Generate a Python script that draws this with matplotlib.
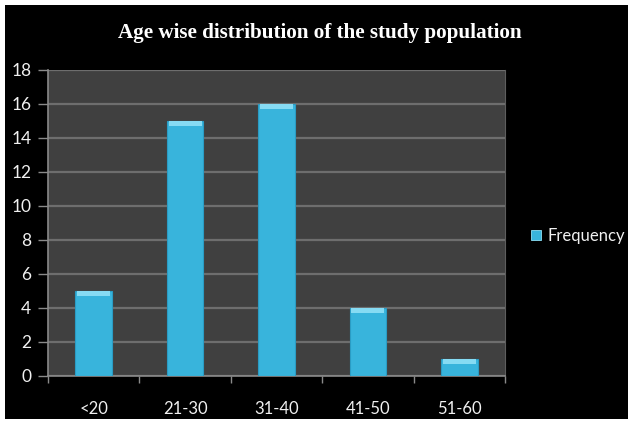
import matplotlib
matplotlib.use("Agg")
import matplotlib.pyplot as plt
from matplotlib.patches import Rectangle
import numpy as np

categories = ["<20", "21-30", "31-40", "41-50", "51-60"]
frequency = [5, 15, 16, 4, 1]
y_ticks = [0, 2, 4, 6, 8, 10, 12, 14, 16, 18]

title = "Age wise distribution of the study population"
series_name = "Frequency"

bar_color = "#38b4dc"
cap_color = "#86dbf3"
plot_bg = "#404040"
grid_color = "#6e6e6e"
text_color = "#f0f0f0"

fig = plt.figure(figsize=(6.33, 4.24), dpi=100)
fig.patch.set_facecolor("white")
# black slide area inside a thin white frame
fig.patches.append(Rectangle((5 / 633, 5 / 424), 623 / 633, 414 / 424,
                             transform=fig.transFigure, facecolor="black",
                             edgecolor="none", zorder=-10))

ax = fig.add_axes([48 / 633, 1 - 376 / 424, 457 / 633, 306 / 424])
ax.set_facecolor(plot_bg)

x = np.arange(len(categories))
width = 0.4
ax.bar(x, frequency, width=width, color=bar_color, zorder=3,
       edgecolor="#2a9cc4", linewidth=0.8)
# lighter bevel on top of each bar
cap = 0.3
ax.bar(x, [cap] * len(x), width=width * 0.9, bottom=np.array(frequency) - cap,
       color=cap_color, zorder=4, linewidth=0)

ax.set_xlim(-0.5, len(categories) - 0.5)
ax.set_ylim(0, 18)
ax.set_yticks(y_ticks)
ax.yaxis.grid(True, color=grid_color, linewidth=1.6, zorder=1)
ax.set_axisbelow(True)

ax.set_xticks(x)
ax.set_xticklabels(categories)
ax.set_xticks(np.arange(len(categories) + 1) - 0.5, minor=True)
ax.tick_params(axis="x", which="major", length=0, pad=18,
               labelsize=12, labelcolor=text_color)
ax.tick_params(axis="x", which="minor", length=5, color="#8a8a8a", width=1)
ax.tick_params(axis="y", length=7, color="#8a8a8a", width=1, pad=5,
               labelsize=12.5, labelcolor=text_color)
for lab in ax.get_xticklabels() + ax.get_yticklabels():
    lab.set_family(["Lato", "DejaVu Sans"])

ax.spines["top"].set_visible(False)
ax.spines["right"].set_color("#5e5e5e")
ax.spines["left"].set_color("#8a8a8a")
ax.spines["bottom"].set_color("#8a8a8a")
ax.spines["left"].set_linewidth(1.2)
ax.spines["bottom"].set_linewidth(1.2)

fig.text(0.506, 1 - 33 / 424, title, ha="center", va="center",
         color="white", fontsize=15.2, fontweight="bold",
         family=["Liberation Serif", "DejaVu Serif"])

handle = Rectangle((0, 0), 1, 1, facecolor=bar_color, edgecolor="#8ee0f6",
                   linewidth=0.6)
leg = fig.legend([handle], [series_name], loc="center left",
                 bbox_to_anchor=(528 / 633, 1 - 236 / 424), frameon=False,
                 handlelength=0.6, handleheight=0.6, handletextpad=0.35,
                 borderpad=0.2, borderaxespad=0.0,
                 prop={"family": ["Lato", "DejaVu Sans"], "size": 12})
for t in leg.get_texts():
    t.set_color(text_color)

fig.savefig("out.png", dpi=100, facecolor=fig.get_facecolor())
